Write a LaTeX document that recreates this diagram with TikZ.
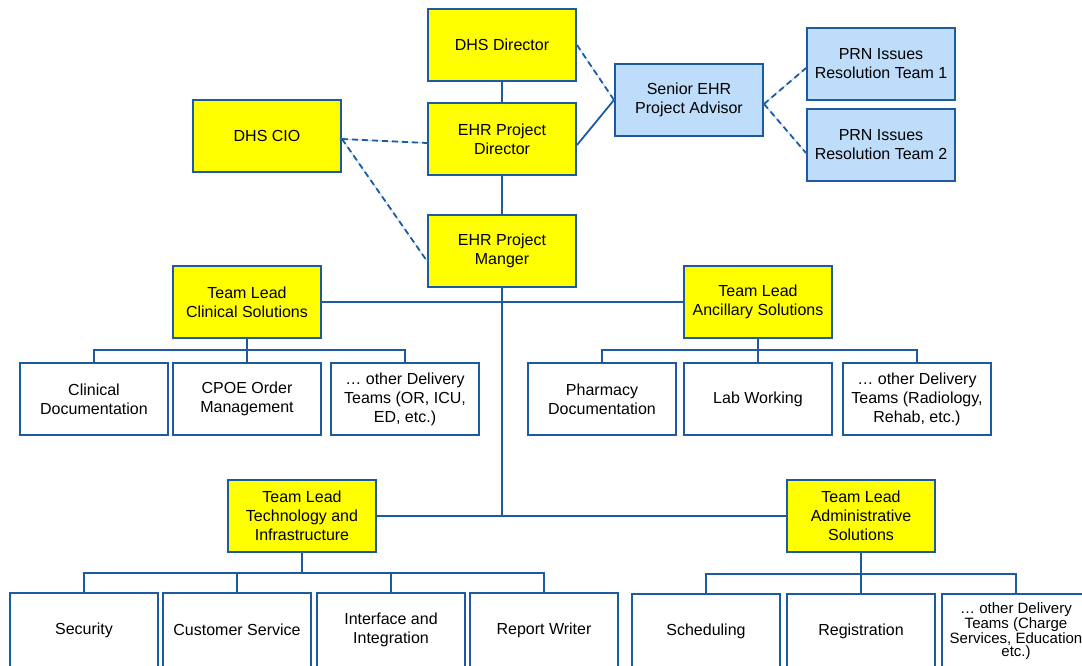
\documentclass[tikz,border=0pt]{standalone}
\usepackage{fontspec}
\setmainfont{Liberation Sans}
\definecolor{bord}{RGB}{30,90,160}
\definecolor{ylw}{RGB}{255,255,0}
\definecolor{lblue}{RGB}{189,221,250}
\begin{document}
\begin{tikzpicture}[x=1pt,y=-1pt,
  box/.style={draw=bord, line width=2pt, minimum width=148pt, minimum height=72pt, align=center, inner sep=1pt, font=\fontsize{16}{19}\selectfont},
  lead/.style={box, fill=ylw},
  adv/.style={box, fill=lblue},
  team/.style={box, fill=white},
  link/.style={draw=bord, line width=1.8pt},
  dlink/.style={draw=bord, line width=1.8pt, dash pattern=on 6pt off 4pt, preaction={draw=lblue, line width=1pt, solid}}]
\useasboundingbox (0,0) rectangle (1082,666);
\clip (0,0) rectangle (1082,666);
% top
\node[lead] (dir) at (502,45) {DHS Director};
\node[lead] (epd) at (502,139) {EHR Project\\Director};
\node[lead] (epm) at (502,251) {EHR Project\\Manger};
\node[lead] (cio) at (267,136) {DHS CIO};
\node[adv] (sea) at (689,100) {Senior EHR\\Project Advisor};
\node[adv] (prn1) at (881,64) {PRN Issues\\Resolution Team 1};
\node[adv] (prn2) at (881,145) {PRN Issues\\Resolution Team 2};
% team leads
\node[lead] (tlc) at (247,302) {Team Lead\\Clinical Solutions};
\node[lead] (tla) at (758,302) {Team Lead\\Ancillary Solutions};
\node[lead] (tlt) at (302,516) {Team Lead\\Technology and\\Infrastructure};
\node[lead] (tld) at (861,516) {Team Lead\\Administrative\\Solutions};
% clinical teams
\node[team] (c1) at (94,399) {Clinical\\Documentation};
\node[team] (c2) at (247,399) {CPOE Order\\Management};
\node[team] (c3) at (405,399) {… other Delivery\\Teams (OR, ICU,\\ED, etc.)};
% ancillary teams
\node[team] (a1) at (602,399) {Pharmacy\\Documentation};
\node[team] (a2) at (758,399) {Lab Working};
\node[team] (a3) at (917,399) {… other Delivery\\Teams (Radiology,\\Rehab, etc.)};
% technology teams
\node[team, minimum height=74pt] (t1) at (84,630) {Security};
\node[team, minimum height=74pt] (t2) at (237,630) {Customer Service};
\node[team, minimum height=74pt] (t3) at (391,630) {Interface and\\Integration};
\node[team, minimum height=74pt] (t4) at (544,630) {Report Writer};
% admin teams
\node[team, minimum height=74pt] (d1) at (706,631) {Scheduling};
\node[team, minimum height=74pt] (d2) at (861,631) {Registration};
\node[team, minimum height=74pt, font=\fontsize{15}{13.5}\selectfont] (d3) at (1016,631) {… other Delivery\\Teams (Charge\\Services, Education\\etc.)};
% main trunk
\coordinate (jt) at (502,516);
\draw[link] (dir) -- (epd);
\draw[link] (epd) -- (epm);
\draw[link] (epm.south) -- (jt);
\draw[link] (tlc.east) -- (tla.west);
\draw[link] (tlt.east) -- (tld.west);
% advisor links
\draw[dlink] (dir.east) -- (sea.west);
\draw[link] ([yshift=-6pt]epd.east) -- (sea.west);
\draw[dlink] ([yshift=-4pt]sea.east) -- ([yshift=-4pt]prn1.west);
\draw[dlink] ([yshift=-4pt]sea.east) -- ([yshift=-8pt]prn2.west);
\draw[dlink] ([yshift=-3pt]cio.east) -- ([yshift=-4pt]epd.west);
\draw[dlink] ([yshift=-3pt]cio.east) -- ([yshift=-10pt]epm.west);
% buses
\coordinate (cb) at (247,350);
\draw[link] (tlc.south) -- (cb);
\draw[link] (c1.north) |- (cb) -| (c3.north);
\draw[link] (cb) -- (c2.north);
\coordinate (ab) at (758,350);
\draw[link] (tla.south) -- (ab);
\draw[link] (a1.north) |- (ab) -| (a3.north);
\draw[link] (ab) -- (a2.north);
\coordinate (tb) at (302,573);
\draw[link] (tlt.south) -- (tb);
\draw[link] (t1.north) |- (tb) -| (t4.north);
\draw[link] (t2.north) |- (tb);
\draw[link] (t3.north) |- (tb);
\coordinate (db) at (861,574);
\draw[link] (tld.south) -- (db);
\draw[link] (d1.north) |- (db) -| (d3.north);
\draw[link] (db) -- (d2.north);
\end{tikzpicture}
\end{document}
